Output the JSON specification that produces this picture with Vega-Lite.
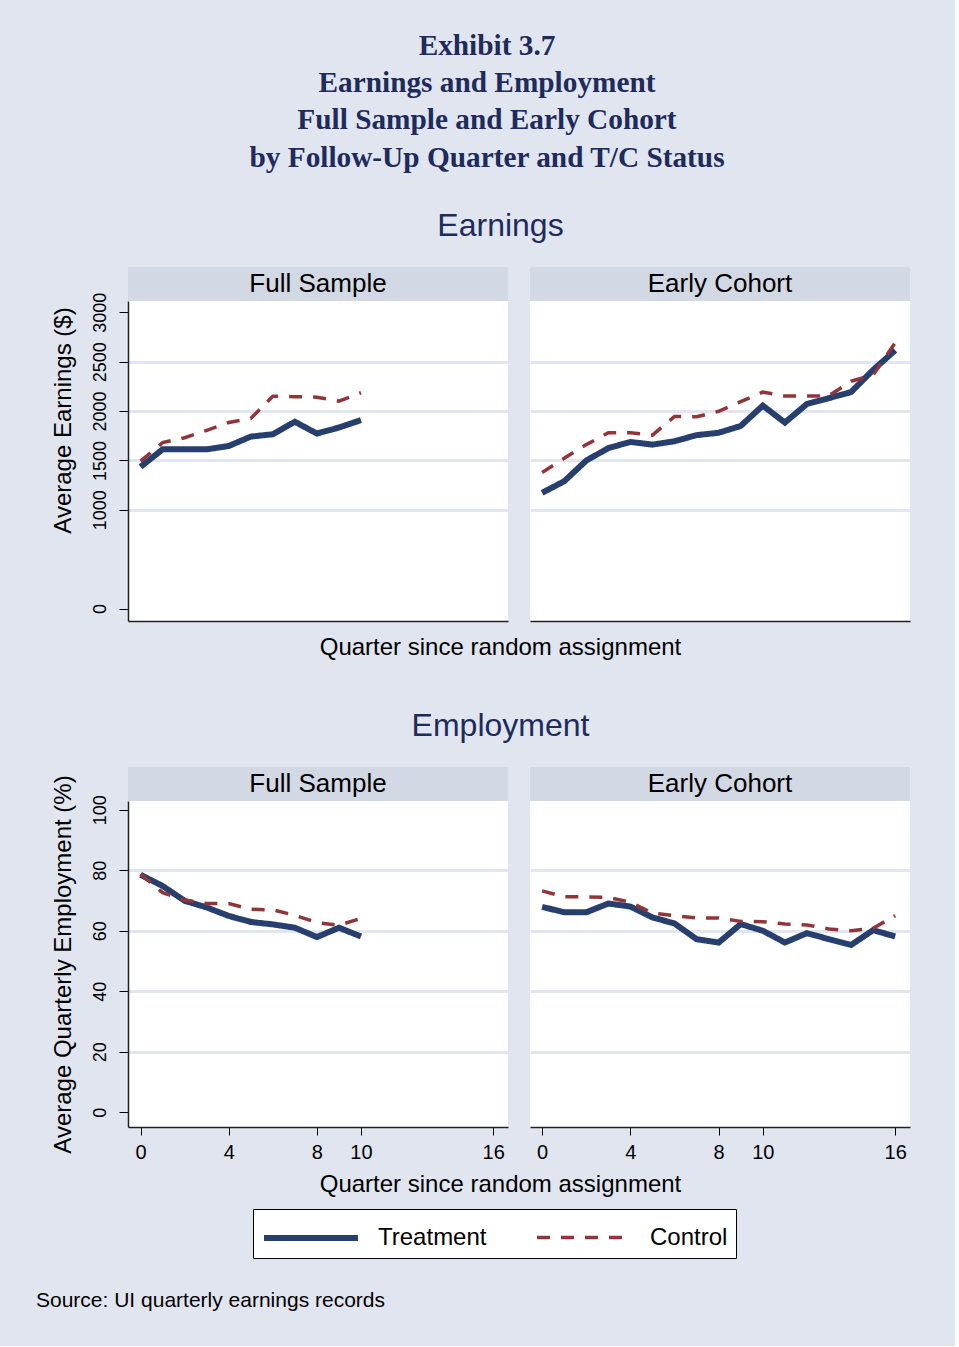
{
  "$schema": "https://vega.github.io/schema/vega-lite/v6.json",
  "background": "#e0e5f0",
  "padding": {"left": 35, "top": 31, "right": 45, "bottom": 35},
  "title": {
    "text": ["Exhibit 3.7", "Earnings and Employment", "Full Sample and Early Cohort", "by Follow-Up Quarter and T/C Status"],
    "font": "Liberation Serif", "fontWeight": "bold", "fontSize": 29.3, "lineHeight": 37.3,
    "color": "#1e2b5c", "anchor": "middle", "dx": 14, "offset": 37
  },
  "datasets": {
    "d": [
      {"m":"Earnings","s":"Full Sample","g":"Treatment","q":0,"v":1435},
      {"m":"Earnings","s":"Full Sample","g":"Treatment","q":1,"v":1612},
      {"m":"Earnings","s":"Full Sample","g":"Treatment","q":2,"v":1612},
      {"m":"Earnings","s":"Full Sample","g":"Treatment","q":3,"v":1612},
      {"m":"Earnings","s":"Full Sample","g":"Treatment","q":4,"v":1646},
      {"m":"Earnings","s":"Full Sample","g":"Treatment","q":5,"v":1741},
      {"m":"Earnings","s":"Full Sample","g":"Treatment","q":6,"v":1765},
      {"m":"Earnings","s":"Full Sample","g":"Treatment","q":7,"v":1891},
      {"m":"Earnings","s":"Full Sample","g":"Treatment","q":8,"v":1772},
      {"m":"Earnings","s":"Full Sample","g":"Treatment","q":9,"v":1833},
      {"m":"Earnings","s":"Full Sample","g":"Treatment","q":10,"v":1908},
      {"m":"Earnings","s":"Early Cohort","g":"Treatment","q":0,"v":1172},
      {"m":"Earnings","s":"Early Cohort","g":"Treatment","q":1,"v":1289},
      {"m":"Earnings","s":"Early Cohort","g":"Treatment","q":2,"v":1498},
      {"m":"Earnings","s":"Early Cohort","g":"Treatment","q":3,"v":1625},
      {"m":"Earnings","s":"Early Cohort","g":"Treatment","q":4,"v":1687},
      {"m":"Earnings","s":"Early Cohort","g":"Treatment","q":5,"v":1660},
      {"m":"Earnings","s":"Early Cohort","g":"Treatment","q":6,"v":1694},
      {"m":"Earnings","s":"Early Cohort","g":"Treatment","q":7,"v":1756},
      {"m":"Earnings","s":"Early Cohort","g":"Treatment","q":8,"v":1780},
      {"m":"Earnings","s":"Early Cohort","g":"Treatment","q":9,"v":1849},
      {"m":"Earnings","s":"Early Cohort","g":"Treatment","q":10,"v":2055},
      {"m":"Earnings","s":"Early Cohort","g":"Treatment","q":11,"v":1883},
      {"m":"Earnings","s":"Early Cohort","g":"Treatment","q":12,"v":2072},
      {"m":"Earnings","s":"Early Cohort","g":"Treatment","q":13,"v":2131},
      {"m":"Earnings","s":"Early Cohort","g":"Treatment","q":14,"v":2192},
      {"m":"Earnings","s":"Early Cohort","g":"Treatment","q":15,"v":2416},
      {"m":"Earnings","s":"Early Cohort","g":"Treatment","q":16,"v":2615},
      {"m":"Employment","s":"Full Sample","g":"Treatment","q":0,"v":78.5},
      {"m":"Employment","s":"Full Sample","g":"Treatment","q":1,"v":74.8},
      {"m":"Employment","s":"Full Sample","g":"Treatment","q":2,"v":69.9},
      {"m":"Employment","s":"Full Sample","g":"Treatment","q":3,"v":67.7},
      {"m":"Employment","s":"Full Sample","g":"Treatment","q":4,"v":64.9},
      {"m":"Employment","s":"Full Sample","g":"Treatment","q":5,"v":62.9},
      {"m":"Employment","s":"Full Sample","g":"Treatment","q":6,"v":62.1},
      {"m":"Employment","s":"Full Sample","g":"Treatment","q":7,"v":61.0},
      {"m":"Employment","s":"Full Sample","g":"Treatment","q":8,"v":57.9},
      {"m":"Employment","s":"Full Sample","g":"Treatment","q":9,"v":61.0},
      {"m":"Employment","s":"Full Sample","g":"Treatment","q":10,"v":58.1},
      {"m":"Employment","s":"Early Cohort","g":"Treatment","q":0,"v":67.9},
      {"m":"Employment","s":"Early Cohort","g":"Treatment","q":1,"v":66.1},
      {"m":"Employment","s":"Early Cohort","g":"Treatment","q":2,"v":66.1},
      {"m":"Employment","s":"Early Cohort","g":"Treatment","q":3,"v":69.0},
      {"m":"Employment","s":"Early Cohort","g":"Treatment","q":4,"v":68.0},
      {"m":"Employment","s":"Early Cohort","g":"Treatment","q":5,"v":64.4},
      {"m":"Employment","s":"Early Cohort","g":"Treatment","q":6,"v":62.4},
      {"m":"Employment","s":"Early Cohort","g":"Treatment","q":7,"v":57.2},
      {"m":"Employment","s":"Early Cohort","g":"Treatment","q":8,"v":56.1},
      {"m":"Employment","s":"Early Cohort","g":"Treatment","q":9,"v":62.2},
      {"m":"Employment","s":"Early Cohort","g":"Treatment","q":10,"v":60.0},
      {"m":"Employment","s":"Early Cohort","g":"Treatment","q":11,"v":56.1},
      {"m":"Employment","s":"Early Cohort","g":"Treatment","q":12,"v":59.2},
      {"m":"Employment","s":"Early Cohort","g":"Treatment","q":13,"v":57.2},
      {"m":"Employment","s":"Early Cohort","g":"Treatment","q":14,"v":55.3},
      {"m":"Employment","s":"Early Cohort","g":"Treatment","q":15,"v":60.2},
      {"m":"Employment","s":"Early Cohort","g":"Treatment","q":16,"v":58.1},
      {"m":"Earnings","s":"Full Sample","g":"Control","q":0,"v":1493},
      {"m":"Earnings","s":"Full Sample","g":"Control","q":1,"v":1680},
      {"m":"Earnings","s":"Full Sample","g":"Control","q":2,"v":1730},
      {"m":"Earnings","s":"Full Sample","g":"Control","q":3,"v":1805},
      {"m":"Earnings","s":"Full Sample","g":"Control","q":4,"v":1884},
      {"m":"Earnings","s":"Full Sample","g":"Control","q":5,"v":1925},
      {"m":"Earnings","s":"Full Sample","g":"Control","q":6,"v":2150},
      {"m":"Earnings","s":"Full Sample","g":"Control","q":7,"v":2145},
      {"m":"Earnings","s":"Full Sample","g":"Control","q":8,"v":2140},
      {"m":"Earnings","s":"Full Sample","g":"Control","q":9,"v":2100},
      {"m":"Earnings","s":"Full Sample","g":"Control","q":10,"v":2185},
      {"m":"Earnings","s":"Early Cohort","g":"Control","q":0,"v":1378},
      {"m":"Earnings","s":"Early Cohort","g":"Control","q":1,"v":1522},
      {"m":"Earnings","s":"Early Cohort","g":"Control","q":2,"v":1660},
      {"m":"Earnings","s":"Early Cohort","g":"Control","q":3,"v":1780},
      {"m":"Earnings","s":"Early Cohort","g":"Control","q":4,"v":1780},
      {"m":"Earnings","s":"Early Cohort","g":"Control","q":5,"v":1756},
      {"m":"Earnings","s":"Early Cohort","g":"Control","q":6,"v":1945},
      {"m":"Earnings","s":"Early Cohort","g":"Control","q":7,"v":1942},
      {"m":"Earnings","s":"Early Cohort","g":"Control","q":8,"v":1997},
      {"m":"Earnings","s":"Early Cohort","g":"Control","q":9,"v":2095},
      {"m":"Earnings","s":"Early Cohort","g":"Control","q":10,"v":2192},
      {"m":"Earnings","s":"Early Cohort","g":"Control","q":11,"v":2151},
      {"m":"Earnings","s":"Early Cohort","g":"Control","q":12,"v":2151},
      {"m":"Earnings","s":"Early Cohort","g":"Control","q":13,"v":2155},
      {"m":"Earnings","s":"Early Cohort","g":"Control","q":14,"v":2302},
      {"m":"Earnings","s":"Early Cohort","g":"Control","q":15,"v":2365},
      {"m":"Earnings","s":"Early Cohort","g":"Control","q":16,"v":2691},
      {"m":"Employment","s":"Full Sample","g":"Control","q":0,"v":78.7},
      {"m":"Employment","s":"Full Sample","g":"Control","q":1,"v":72.6},
      {"m":"Employment","s":"Full Sample","g":"Control","q":2,"v":70.1},
      {"m":"Employment","s":"Full Sample","g":"Control","q":3,"v":69.0},
      {"m":"Employment","s":"Full Sample","g":"Control","q":4,"v":69.0},
      {"m":"Employment","s":"Full Sample","g":"Control","q":5,"v":67.1},
      {"m":"Employment","s":"Full Sample","g":"Control","q":6,"v":66.9},
      {"m":"Employment","s":"Full Sample","g":"Control","q":7,"v":65.1},
      {"m":"Employment","s":"Full Sample","g":"Control","q":8,"v":62.7},
      {"m":"Employment","s":"Full Sample","g":"Control","q":9,"v":61.8},
      {"m":"Employment","s":"Full Sample","g":"Control","q":10,"v":64.1},
      {"m":"Employment","s":"Early Cohort","g":"Control","q":0,"v":73.2},
      {"m":"Employment","s":"Early Cohort","g":"Control","q":1,"v":71.2},
      {"m":"Employment","s":"Early Cohort","g":"Control","q":2,"v":71.2},
      {"m":"Employment","s":"Early Cohort","g":"Control","q":3,"v":71.0},
      {"m":"Employment","s":"Early Cohort","g":"Control","q":4,"v":69.4},
      {"m":"Employment","s":"Early Cohort","g":"Control","q":5,"v":65.8},
      {"m":"Employment","s":"Early Cohort","g":"Control","q":6,"v":65.0},
      {"m":"Employment","s":"Early Cohort","g":"Control","q":7,"v":64.2},
      {"m":"Employment","s":"Early Cohort","g":"Control","q":8,"v":64.2},
      {"m":"Employment","s":"Early Cohort","g":"Control","q":9,"v":63.1},
      {"m":"Employment","s":"Early Cohort","g":"Control","q":10,"v":63.0},
      {"m":"Employment","s":"Early Cohort","g":"Control","q":11,"v":62.2},
      {"m":"Employment","s":"Early Cohort","g":"Control","q":12,"v":61.9},
      {"m":"Employment","s":"Early Cohort","g":"Control","q":13,"v":60.6},
      {"m":"Employment","s":"Early Cohort","g":"Control","q":14,"v":60.0},
      {"m":"Employment","s":"Early Cohort","g":"Control","q":15,"v":60.8},
      {"m":"Employment","s":"Early Cohort","g":"Control","q":16,"v":65.0}
    ]
  },
  "resolve": {"scale": {"color": "shared", "strokeDash": "shared", "strokeWidth": "shared"}},
  "vconcat": [
    {
      "title": {"text": "Source: UI quarterly earnings records", "orient": "bottom", "anchor": "start", "fontSize": 21, "color": "black", "offset": 93, "dx": -15},
      "spacing": 50,
      "resolve": {"scale": {"color": "shared", "strokeDash": "shared", "strokeWidth": "shared"}},
      "vconcat": [
        {
          "title": {"text": "Earnings", "fontSize": 32, "color": "#1e2b5c", "offset": 24, "dx": 20, "anchor": "middle"},
          "resolve": {"scale": {"color": "shared", "strokeDash": "shared", "strokeWidth": "shared"}},
          "vconcat": [
            {
              "title": {"text": "Quarter since random assignment", "orient": "bottom", "fontSize": 24, "color": "black", "offset": 15, "dx": 20, "anchor": "middle"},
              "spacing": 22,
              "resolve": {"scale": {"color": "shared", "strokeDash": "shared", "strokeWidth": "shared"}},
              "hconcat": [
                {
                  "spacing": 0, "bounds": "flush",
                  "vconcat": [
                    {"width": 380, "height": 34, "view": {"fill": "#d2d8e4", "stroke": null},
                     "data": {"values": [{"label": "Full Sample"}]},
                     "mark": {"type": "text", "fontSize": 26, "color": "black", "baseline": "middle", "align": "center"},
                     "encoding": {"text": {"field": "label", "type": "nominal"}}},
                    {"width": 380, "height": 320, "data": {"name": "d"},
                     "transform": [{"filter": "datum.m == 'Earnings' && datum.s == 'Full Sample'"}],
                     "mark": {"type": "line"},
                     "encoding": {
                       "x": {"field": "q", "type": "quantitative", "scale": {"domain": [-0.57, 16.67], "nice": false, "zero": false},
                             "axis": {"ticks": false, "labels": false, "title": null, "grid": false}},
                       "y": {"field": "v", "type": "quantitative", "scale": {"domain": [-126, 3114], "nice": false, "zero": false},
                             "axis": {"values": [0, 1000, 1500, 2000, 2500, 3000], "format": "d", "title": "Average Earnings ($)", "titleY": 119,
                                      "labelAngle": -90, "labelAlign": "center", "labelBaseline": "bottom", "labelFontSize": 18, "labelPadding": 10,
                                      "tickSize": 9, "titlePadding": 16,
                                      "gridOpacity": {"condition": {"test": "datum.value == 0 || datum.value == 3000", "value": 0}, "value": 1}}},
                       "color": {"field": "g", "type": "nominal", "scale": {"domain": ["Treatment", "Control"], "range": ["#263f6e", "#923539"]}, "legend": {"title": null, "orient": "none", "legendX": 125, "legendY": 942}},
                       "strokeDash": {"field": "g", "type": "nominal", "scale": {"domain": ["Treatment", "Control"], "range": [[1, 0], [13, 11]]}, "legend": {"title": null, "orient": "none", "legendX": 125, "legendY": 942}},
                       "strokeWidth": {"field": "g", "type": "nominal", "scale": {"domain": ["Treatment", "Control"], "range": [6, 3.5]}, "legend": {"title": null, "orient": "none", "legendX": 125, "legendY": 942}}
                     }}
                  ]
                },
                {
                  "spacing": 0, "bounds": "flush",
                  "vconcat": [
                    {"width": 380, "height": 34, "view": {"fill": "#d2d8e4", "stroke": null},
                     "data": {"values": [{"label": "Early Cohort"}]},
                     "mark": {"type": "text", "fontSize": 26, "color": "black", "baseline": "middle", "align": "center"},
                     "encoding": {"text": {"field": "label", "type": "nominal"}}},
                    {"width": 380, "height": 320, "data": {"name": "d"},
                     "transform": [{"filter": "datum.m == 'Earnings' && datum.s == 'Early Cohort'"}],
                     "mark": {"type": "line"},
                     "encoding": {
                       "x": {"field": "q", "type": "quantitative", "scale": {"domain": [-0.55, 16.67], "nice": false, "zero": false},
                             "axis": {"ticks": false, "labels": false, "title": null, "grid": false}},
                       "y": {"field": "v", "type": "quantitative", "scale": {"domain": [-126, 3114], "nice": false, "zero": false},
                             "axis": {"values": [0, 1000, 1500, 2000, 2500, 3000], "title": null, "labels": false, "ticks": false, "domain": false,
                                      "gridOpacity": {"condition": {"test": "datum.value == 0 || datum.value == 3000", "value": 0}, "value": 1}}},
                       "color": {"field": "g", "type": "nominal", "scale": {"domain": ["Treatment", "Control"], "range": ["#263f6e", "#923539"]}, "legend": {"title": null, "orient": "none", "legendX": 125, "legendY": 942}},
                       "strokeDash": {"field": "g", "type": "nominal", "scale": {"domain": ["Treatment", "Control"], "range": [[1, 0], [13, 11]]}, "legend": {"title": null, "orient": "none", "legendX": 125, "legendY": 942}},
                       "strokeWidth": {"field": "g", "type": "nominal", "scale": {"domain": ["Treatment", "Control"], "range": [6, 3.5]}, "legend": {"title": null, "orient": "none", "legendX": 125, "legendY": 942}}
                     }}
                  ]
                }
              ]
            }
          ]
        },
        {
          "title": {"text": "Employment", "fontSize": 32, "color": "#1e2b5c", "offset": 24, "dx": 20, "anchor": "middle"},
          "resolve": {"scale": {"color": "shared", "strokeDash": "shared", "strokeWidth": "shared"}},
          "vconcat": [
            {
              "title": {"text": "Quarter since random assignment", "orient": "bottom", "fontSize": 24, "color": "black", "offset": 11, "dx": 20, "anchor": "middle"},
              "spacing": 22,
              "resolve": {"scale": {"color": "shared", "strokeDash": "shared", "strokeWidth": "shared"}},
              "hconcat": [
                {
                  "spacing": 0, "bounds": "flush",
                  "vconcat": [
                    {"width": 380, "height": 34, "view": {"fill": "#d2d8e4", "stroke": null},
                     "data": {"values": [{"label": "Full Sample"}]},
                     "mark": {"type": "text", "fontSize": 26, "color": "black", "baseline": "middle", "align": "center"},
                     "encoding": {"text": {"field": "label", "type": "nominal"}}},
                    {"width": 380, "height": 326, "data": {"name": "d"},
                     "transform": [{"filter": "datum.m == 'Employment' && datum.s == 'Full Sample'"}],
                     "mark": {"type": "line"},
                     "encoding": {
                       "x": {"field": "q", "type": "quantitative", "scale": {"domain": [-0.57, 16.67], "nice": false, "zero": false},
                             "axis": {"values": [0, 4, 8, 10, 16], "title": null, "grid": false, "labelFontSize": 20, "tickSize": 8, "labelPadding": 7, "labelFlush": false}},
                       "y": {"field": "v", "type": "quantitative", "scale": {"domain": [-4.9, 102.9], "nice": false, "zero": false},
                             "axis": {"values": [0, 20, 40, 60, 80, 100], "title": "Average Quarterly Employment (%)",
                                      "labelAngle": -90, "labelAlign": "center", "labelBaseline": "bottom", "labelFontSize": 18, "labelPadding": 10,
                                      "tickSize": 9, "titlePadding": 16,
                                      "gridOpacity": {"condition": {"test": "datum.value == 0 || datum.value == 100", "value": 0}, "value": 1}}},
                       "color": {"field": "g", "type": "nominal", "scale": {"domain": ["Treatment", "Control"], "range": ["#263f6e", "#923539"]}, "legend": {"title": null, "orient": "none", "legendX": 125, "legendY": 942}},
                       "strokeDash": {"field": "g", "type": "nominal", "scale": {"domain": ["Treatment", "Control"], "range": [[1, 0], [13, 11]]}, "legend": {"title": null, "orient": "none", "legendX": 125, "legendY": 942}},
                       "strokeWidth": {"field": "g", "type": "nominal", "scale": {"domain": ["Treatment", "Control"], "range": [6, 3.5]}, "legend": {"title": null, "orient": "none", "legendX": 125, "legendY": 942}}
                     }}
                  ]
                },
                {
                  "spacing": 0, "bounds": "flush",
                  "vconcat": [
                    {"width": 380, "height": 34, "view": {"fill": "#d2d8e4", "stroke": null},
                     "data": {"values": [{"label": "Early Cohort"}]},
                     "mark": {"type": "text", "fontSize": 26, "color": "black", "baseline": "middle", "align": "center"},
                     "encoding": {"text": {"field": "label", "type": "nominal"}}},
                    {"width": 380, "height": 326, "data": {"name": "d"},
                     "transform": [{"filter": "datum.m == 'Employment' && datum.s == 'Early Cohort'"}],
                     "mark": {"type": "line"},
                     "encoding": {
                       "x": {"field": "q", "type": "quantitative", "scale": {"domain": [-0.55, 16.67], "nice": false, "zero": false},
                             "axis": {"values": [0, 4, 8, 10, 16], "title": null, "grid": false, "labelFontSize": 20, "tickSize": 8, "labelPadding": 7, "labelFlush": false}},
                       "y": {"field": "v", "type": "quantitative", "scale": {"domain": [-4.9, 102.9], "nice": false, "zero": false},
                             "axis": {"values": [0, 20, 40, 60, 80, 100], "title": null, "labels": false, "ticks": false, "domain": false,
                                      "gridOpacity": {"condition": {"test": "datum.value == 0 || datum.value == 100", "value": 0}, "value": 1}}},
                       "color": {"field": "g", "type": "nominal", "scale": {"domain": ["Treatment", "Control"], "range": ["#263f6e", "#923539"]}, "legend": {"title": null, "orient": "none", "legendX": 125, "legendY": 942}},
                       "strokeDash": {"field": "g", "type": "nominal", "scale": {"domain": ["Treatment", "Control"], "range": [[1, 0], [13, 11]]}, "legend": {"title": null, "orient": "none", "legendX": 125, "legendY": 942}},
                       "strokeWidth": {"field": "g", "type": "nominal", "scale": {"domain": ["Treatment", "Control"], "range": [6, 3.5]}, "legend": {"title": null, "orient": "none", "legendX": 125, "legendY": 942}}
                     }}
                  ]
                }
              ]
            }
          ]
        }
      ]
    }
  ],
  "config": {
    "font": "Liberation Sans",
    "view": {"fill": "white", "stroke": null},
    "title": {"font": "Liberation Sans", "fontWeight": "normal"},
    "axis": {"labelFont": "Liberation Sans", "titleFont": "Liberation Sans", "labelColor": "black", "titleColor": "black",
             "titleFontSize": 24, "titleFontWeight": "normal", "tickColor": "black", "domainColor": "#222", "domainWidth": 1.5,
             "tickWidth": 1, "gridColor": "#e0e5f0", "gridWidth": 3},
    "legend": {"direction": "horizontal", "symbolType": "M-1,0H4.22", "symbolSize": 1296, "labelFontSize": 24, "labelFont": "Liberation Sans",
               "labelColor": "black", "labelOffset": 75, "columnPadding": 43, "padding": 8, "fillColor": "white", "strokeColor": "black",
               "cornerRadius": 0},
    "line": {"strokeCap": "butt"}
  }
}
